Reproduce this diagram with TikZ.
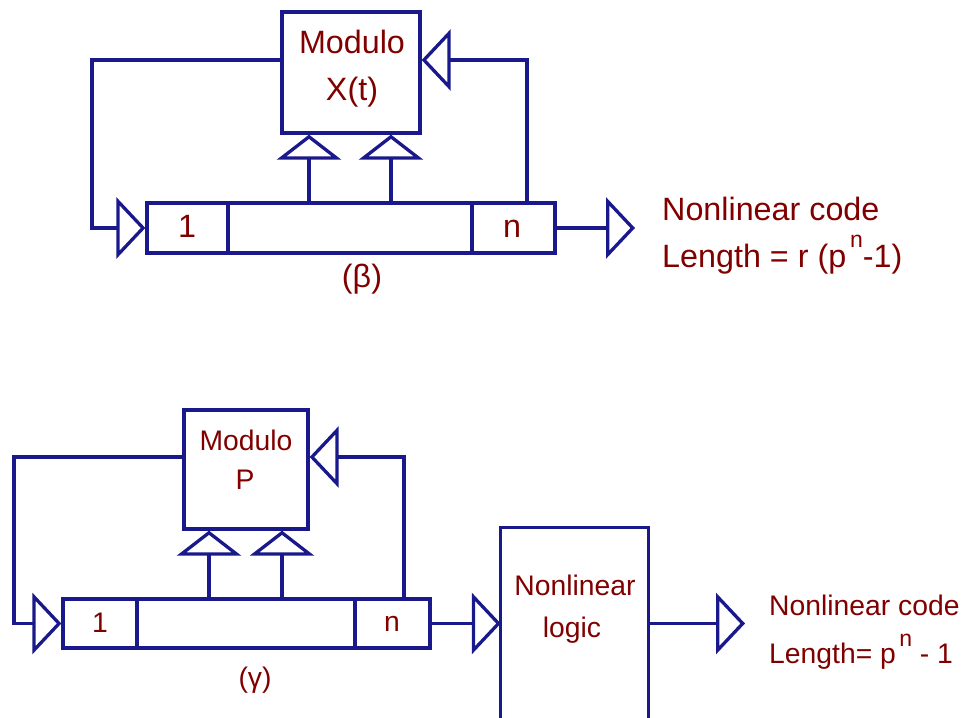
\documentclass[tikz,border=0pt]{standalone}
\usepackage{fontspec}
\setmainfont{Liberation Sans}
\usetikzlibrary{arrows.meta}
\definecolor{ln}{RGB}{25,25,140}
\definecolor{tx}{RGB}{128,0,0}
\tikzset{
  box/.style={draw=ln, line width=3.3pt, inner sep=0pt, anchor=center},
  lblA/.style={text=tx, inner sep=0pt, anchor=base, font=\fontsize{32.3}{34}\selectfont},
  lblB/.style={text=tx, inner sep=0pt, anchor=base, font=\fontsize{28.3}{32}\selectfont},
  conn/.style={draw=ln, line width=3.3pt, -{Triangle[open,length=29pt,width=61pt]}},
  upconn/.style={draw=ln, line width=3.3pt, -{Triangle[open,length=25pt,width=64pt]}},
  wire/.style={draw=ln, line width=3.3pt},
}
\newcommand{\supn}{\hspace{0.12em}\raisebox{0.6em}{\fontsize{23}{23}\selectfont n}}
\begin{document}
\begin{tikzpicture}[x=1pt,y=-1pt]
\useasboundingbox (0,0) rectangle (968,717);

% ---------- top (beta) ----------
\node[box, minimum width=138pt, minimum height=121pt] (mod1) at (351,72.5) {};
\node[lblA] (m1t1) at (352,53) {Modulo};
\node[lblA] (m1t2) at (352,100) {X(t)};

\node[box, minimum width=81pt, minimum height=50pt] (r1a) at (187.5,228) {};
\node[box, minimum width=244pt, minimum height=50pt] (r1b) at (350,228) {};
\node[box, minimum width=83pt, minimum height=50pt] (r1c) at (513.5,228) {};
\node[lblA] (r1one) at (187,237) {1};
\node[lblA] (r1n) at (512,237) {n};
\node[lblA] (beta) at (362,287) {(β)};

\coordinate (lA) at (92,60);
\coordinate (rA) at (527,60);
\coordinate (u1) at (309,0);
\coordinate (u2) at (391,0);
\coordinate (o1) at (635,228);

\draw[conn] (mod1.west |- lA) -- (lA) |- (r1a.west);
\draw[conn] (rA |- r1c.north) -- (rA) -- (mod1.east |- rA);
\draw[upconn] (u1 |- r1b.north) -- (u1 |- mod1.south);
\draw[upconn] (u2 |- r1b.north) -- (u2 |- mod1.south);
\draw[conn] (r1c.east) -- (o1);

\node[lblA, anchor=base west] (c1a) at (662,220) {Nonlinear code};
\node[lblA, anchor=base west] (c1b) at (662,267) {Length = r (p\supn-1)};

% ---------- bottom (gamma) ----------
\node[box, minimum width=124pt, minimum height=119pt] (mod2) at (246,469.5) {};
\node[lblB] (m2t1) at (246,450) {Modulo};
\node[lblB] (m2t2) at (245,489) {P};

\node[box, minimum width=74pt, minimum height=49pt] (r2a) at (100,623.5) {};
\node[box, minimum width=218pt, minimum height=49pt] (r2b) at (246,623.5) {};
\node[box, minimum width=75pt, minimum height=49pt] (r2c) at (392.5,623.5) {};
\node[lblB] (r2one) at (100,632) {1};
\node[lblB] (r2n) at (392,631) {n};
\node[lblB] (gam) at (255,687) {(γ)};

\coordinate (lB) at (14,457);
\coordinate (rB) at (404,457);
\coordinate (v1) at (209,0);
\coordinate (v2) at (282,0);
\coordinate (o2) at (745,623.5);

\draw[conn] (mod2.west |- lB) -- (lB) |- (r2a.west);
\draw[conn] (rB |- r2c.north) -- (rB) -- (mod2.east |- rB);
\draw[upconn] (v1 |- r2b.north) -- (v1 |- mod2.south);
\draw[upconn] (v2 |- r2b.north) -- (v2 |- mod2.south);

\node[inner sep=0pt, minimum width=147pt, minimum height=200pt] (nl) at (574.5,628) {};
\draw[wire] (nl.south west) |- (nl.north east) -- (nl.south east);
\node[lblB] (nlt1) at (575,595) {Nonlinear};
\node[lblB] (nlt2) at (572,637) {logic};

\draw[conn] (r2c.east) -- (r2c.east -| nl.west);
\draw[conn] (nl.east |- r2c.east) -- (o2);

\node[lblB, anchor=base west] (c2a) at (769,615) {Nonlinear code};
\node[lblB, anchor=base west] (c2b) at (769,663) {Length= p\supn\ - 1};
\end{tikzpicture}
\end{document}
